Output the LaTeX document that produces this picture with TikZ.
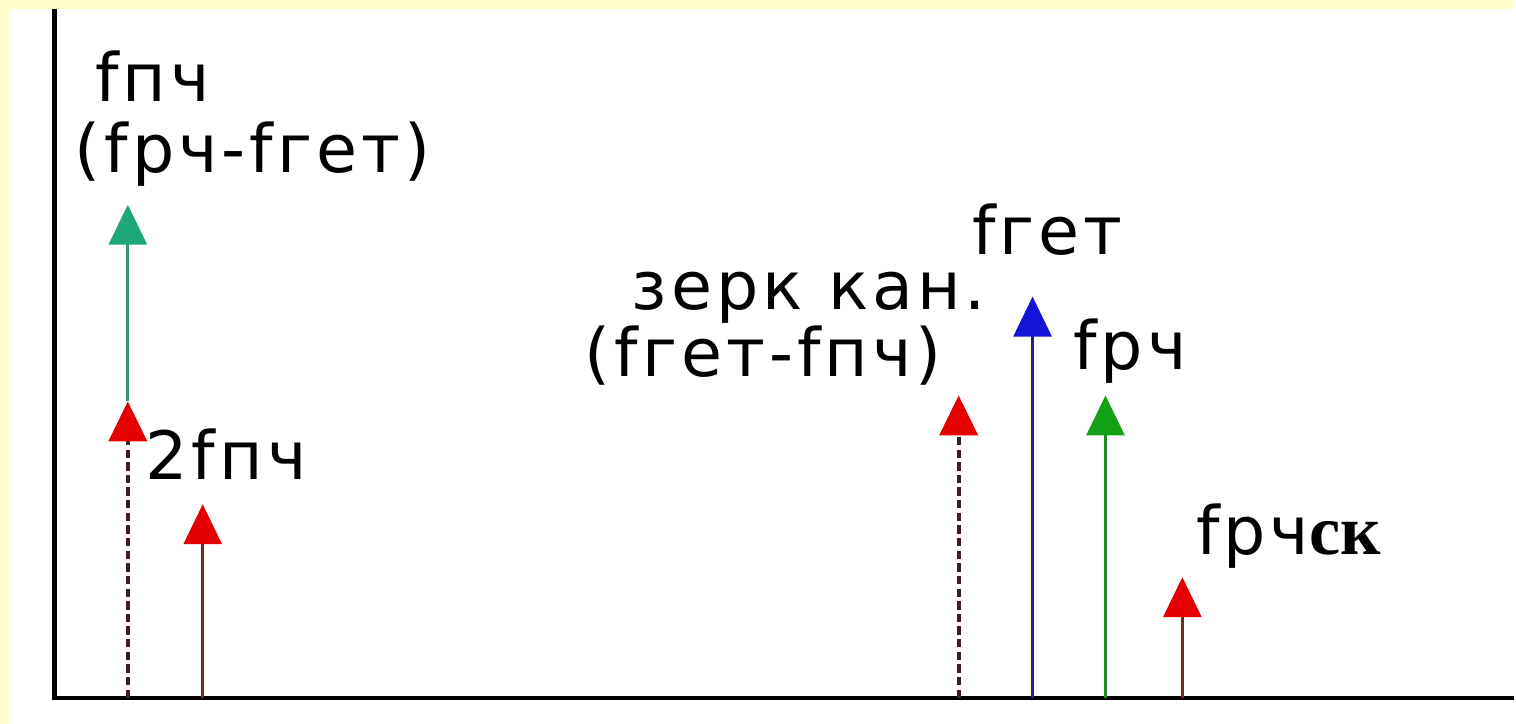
\documentclass[tikz,border=0pt]{standalone}
\usepackage{fontspec}
\newfontfamily\spfont{DejaVu Sans}[LetterSpace=6]
\newfontfamily\skfont{Liberation Serif}
\usetikzlibrary{arrows.meta}
\definecolor{bgyel}{HTML}{FFFFCC}
\definecolor{headred}{HTML}{E40000}
\definecolor{headblue}{HTML}{1414D8}
\definecolor{headgreen}{HTML}{14A014}
\definecolor{headteal}{HTML}{1EA878}
\definecolor{stemred}{HTML}{7E2424}
\definecolor{stemdash}{HTML}{3E1E1E}
\definecolor{stemblue}{HTML}{22228A}
\definecolor{stemgreen}{HTML}{228A22}
\definecolor{stemteal}{HTML}{3C9272}
\tikzset{
  axis/.style={
    line width=1.2pt,
    draw=black
  },
  lbl/.style={
    anchor=base west,
    inner sep=0pt,
    font=\spfont\fontsize{19}{20}\selectfont
  },
  line/.style={
    line width=0.9pt
  },
  redline/.style={
    line, draw=stemred,
    -{Triangle[length=0.4cm,width=0.38cm,color=headred]}
  },
  mirror/.style={
    line width=1.2pt, draw=stemdash,
    dash pattern=on 2.4pt off 1.2pt,
    -{Triangle[length=0.4cm,width=0.38cm,color=headred]}
  },
  blueline/.style={
    line, draw=stemblue,
    -{Triangle[length=0.4cm,width=0.38cm,color=headblue]}
  },
  greenline/.style={
    line, draw=stemgreen,
    -{Triangle[length=0.4cm,width=0.38cm,color=headgreen]}
  },
  tealline/.style={
    line, draw=stemteal,
    -{Triangle[length=0.4cm,width=0.38cm,color=headteal]}
  },
}
\begin{document}
\begin{tikzpicture}
    \fill[bgyel] (0,0) rectangle (15.16,7.25);
    \fill[white] (0.09,0) rectangle (15.16,7.16);
    \coordinate (o) at (0.545,0.26);
    \coordinate (ytop) at (0.545,7.16);
    \coordinate (xend) at (15.16,0.26);
    \draw[axis] (ytop) -- (o) -- (xend);
    % lines on the axis
    \coordinate (b1) at (1.28,0.26);
    \coordinate (b2) at (2.03,0.26);
    \coordinate (b3) at (9.60,0.26);
    \coordinate (b4) at (10.34,0.26);
    \coordinate (b5) at (11.07,0.26);
    \coordinate (b6) at (11.84,0.26);
    \coordinate (t1) at (1.28,3.23);
    \coordinate (t1top) at (1.28,5.20);
    \coordinate (t2) at (2.03,2.20);
    \coordinate (t3) at (9.60,3.29);
    \coordinate (t4) at (10.34,4.28);
    \coordinate (t5) at (11.07,3.29);
    \coordinate (t6) at (11.84,1.47);
    \draw[tealline] (t1) -- (t1top);
    \draw[mirror] (b1) -- (t1);
    \draw[redline] (b2) -- (t2);
    \draw[mirror] (b3) -- (t3);
    \draw[blueline] (b4) -- (t4);
    \draw[greenline] (b5) -- (t5);
    \draw[redline] (b6) -- (t6);
    % labels
    \node[lbl] (fpch) at (0.95,6.23) {fпч};
    \node[lbl] (fpchdiff) at (0.74,5.52) {(fрч-fгет)};
    \node[lbl] (twofpch) at (1.45,2.45) {2fпч};
    \node[lbl] (fget) at (9.73,4.70) {fгет};
    \node[lbl] (zerk) at (6.32,4.15) {зерк кан.};
    \node[lbl] (zerkdiff) at (5.85,3.48) {(fгет-fпч)};
    \node[lbl] (frch) at (10.74,3.55) {fрч};
    \node[lbl] (frchsk) at (11.97,1.70) {fрч{\skfont\bfseries\fontsize{20}{20}\selectfont ск}};
\end{tikzpicture}
\end{document}
